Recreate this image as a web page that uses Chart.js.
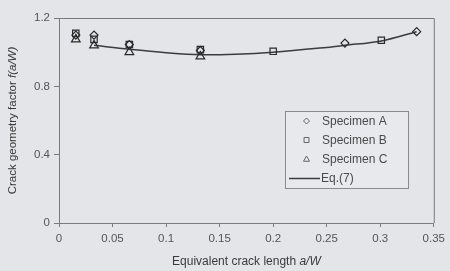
<!DOCTYPE html>
<html><head><meta charset="utf-8">
<script src="https://cdn.jsdelivr.net/npm/chart.js@4.4.1/dist/chart.umd.min.js"></script>
<style>html,body{margin:0;padding:0;background:#e4e5e9;}#wrap{width:450px;height:271px;}</style>
</head><body><div id="wrap"><canvas id="c" width="450" height="271"></canvas></div>
<script>
const xTickValues = [0, 0.05, 0.1, 0.15, 0.2, 0.25, 0.3, 0.35];
const xTickLabels = ["0", "0.05", "0.1", "0.15", "0.2", "0.25", "0.3", "0.35"];
const yTickValues = [0, 0.4, 0.8, 1.2];
const yTickLabels = ["0", "0.4", "0.8", "1.2"];

const specAX = [0.0157, 0.0327, 0.0657, 0.132, 0.267, 0.334];
const specAY = [1.10, 1.10, 1.045, 1.01, 1.053, 1.12];
const specBX = [0.0157, 0.0327, 0.0657, 0.132, 0.2, 0.301];
const specBY = [1.11, 1.075, 1.045, 1.015, 1.005, 1.07];
const specCX = [0.0157, 0.0327, 0.0657, 0.132];
const specCY = [1.075, 1.04, 1.0, 0.975];
const eqX = [0.0327, 0.0657, 0.1, 0.132, 0.165, 0.2, 0.25, 0.267, 0.301, 0.334];
const eqY = [1.04, 1.017, 0.997, 0.985, 0.988, 1.0, 1.028, 1.04, 1.066, 1.12];

const seriesNames = ["Specimen A", "Specimen B", "Specimen C", "Eq.(7)"];
const pts = (xs, ys) => xs.map((x, i) => ({x: x, y: ys[i]}));

const ink = '#3a3a3a';
const frame = '#7a7a7a';

const decor = {
  id: 'decor',
  beforeDraw(chart) {
    const ctx = chart.ctx;
    ctx.save();
    ctx.fillStyle = '#e4e5e9';
    ctx.fillRect(0, 0, chart.width, chart.height);
    ctx.restore();
  },
  afterDraw(chart) {
    const ctx = chart.ctx, a = chart.chartArea;
    ctx.save();
    ctx.strokeStyle = frame; ctx.lineWidth = 1;
    ctx.beginPath();
    ctx.moveTo(a.left, a.top + 0.5); ctx.lineTo(a.right + 0.5, a.top + 0.5); ctx.lineTo(a.right + 0.5, a.bottom);
    ctx.stroke();
    ctx.fillStyle = ink;
    ctx.textBaseline = 'middle';
    const f1 = '12px "Liberation Sans", Arial, sans-serif';
    const f1i = 'italic 12px "Liberation Sans", Arial, sans-serif';
    ctx.font = f1;
    const t1 = 'Equivalent crack length ';
    const w1 = ctx.measureText(t1).width;
    ctx.font = f1i;
    const t2 = 'a/W';
    const w2 = ctx.measureText(t2).width;
    let sx = (a.left + a.right) / 2 - (w1 + w2) / 2;
    ctx.textAlign = 'left';
    ctx.font = f1; ctx.fillText(t1, sx, 262);
    ctx.font = f1i; ctx.fillText(t2, sx + w1, 262);
    ctx.save();
    ctx.translate(13, (a.top + a.bottom) / 2);
    ctx.rotate(-Math.PI / 2);
    const f2 = '11.5px "Liberation Sans", Arial, sans-serif';
    const f2i = 'italic 11.5px "Liberation Sans", Arial, sans-serif';
    ctx.font = f2; const y1 = 'Crack geometry factor '; const yw1 = ctx.measureText(y1).width;
    ctx.font = f2i; const y2 = 'f(a/W)'; const yw2 = ctx.measureText(y2).width;
    let sy = -(yw1 + yw2) / 2;
    ctx.font = f2; ctx.fillText(y1, sy, 0);
    ctx.font = f2i; ctx.fillText(y2, sy + yw1, 0);
    ctx.restore();
    const lx = 285.5, ly = 111.5, lw = 123, lh = 77;
    ctx.fillStyle = '#e8e9ec';
    ctx.fillRect(lx, ly, lw, lh);
    ctx.strokeStyle = '#8a8a8a'; ctx.lineWidth = 1;
    ctx.strokeRect(lx, ly, lw, lh);
    const rows = [121, 140, 159.5, 178.5];
    chart.data.datasets.forEach((ds, i) => {
      const yy = rows[i];
      if (ds.showLine) {
        ctx.strokeStyle = ds.borderColor; ctx.lineWidth = 1.5;
        ctx.beginPath(); ctx.moveTo(289, yy); ctx.lineTo(320, yy); ctx.stroke();
      } else {
        ctx.fillStyle = 'rgba(0,0,0,0)';
        ctx.strokeStyle = '#666'; ctx.lineWidth = 1;
        Chart.helpers.drawPoint(ctx, {pointStyle: ds.pointStyle, radius: ds.legendRadius, borderWidth: 1}, 306.5, yy);
      }
      ctx.font = '12px "Liberation Sans", Arial, sans-serif';
      ctx.fillStyle = '#4a4a4a';
      ctx.textAlign = 'left';
      ctx.textBaseline = 'middle';
      ctx.fillText(seriesNames[i], i === 3 ? 321 : 322, yy + 0.5);
    });
    ctx.restore();
  }
};

new Chart(document.getElementById('c'), {
  type: 'scatter',
  data: {
    datasets: [
      {label: seriesNames[0], data: pts(specAX, specAY), pointStyle: 'rectRot', pointRadius: 4, legendRadius: 3,
       borderColor: '#2a2a2a', backgroundColor: 'rgba(0,0,0,0)', borderWidth: 1.2, showLine: false},
      {label: seriesNames[1], data: pts(specBX, specBY), pointStyle: 'rect', pointRadius: 4.5, legendRadius: 3.5,
       borderColor: '#2a2a2a', backgroundColor: 'rgba(0,0,0,0)', borderWidth: 1.2, showLine: false},
      {label: seriesNames[2], data: pts(specCX, specCY), pointStyle: 'triangle', pointRadius: 5, legendRadius: 3.5,
       borderColor: '#2a2a2a', backgroundColor: 'rgba(0,0,0,0)', borderWidth: 1.2, showLine: false},
      {label: seriesNames[3], data: pts(eqX, eqY), pointRadius: 0, showLine: true, tension: 0.35,
       borderColor: '#3c3c3c', borderWidth: 1.5, fill: false}
    ]
  },
  options: {
    responsive: false,
    animation: false,
    devicePixelRatio: 1,
    layout: {padding: {top: 18, right: 13, left: 0, bottom: 0}},
    plugins: {legend: {display: false}, tooltip: {enabled: false}, title: {display: false}},
    scales: {
      x: {
        type: 'linear', min: 0, max: 0.35,
        afterBuildTicks: s => { s.ticks = xTickValues.map(v => ({value: v})); },
        afterFit: s => { s.height = 48; },
        ticks: {callback: (v, i) => xTickLabels[i], color: '#555', padding: 5,
                font: {family: '"Liberation Sans", Arial, sans-serif', size: 11.5}, maxRotation: 0, autoSkip: false},
        grid: {drawOnChartArea: false, tickLength: 4, color: frame},
        border: {color: frame, width: 1}
      },
      y: {
        type: 'linear', min: 0, max: 1.2,
        afterBuildTicks: s => { s.ticks = yTickValues.map(v => ({value: v})); },
        afterFit: s => { s.width = 59; },
        ticks: {callback: (v, i) => yTickLabels[i], color: '#555', padding: 4,
                font: {family: '"Liberation Sans", Arial, sans-serif', size: 11.5}},
        grid: {drawOnChartArea: false, tickLength: 5, color: frame},
        border: {color: frame, width: 1}
      }
    }
  },
  plugins: [decor]
});
</script></body></html>
